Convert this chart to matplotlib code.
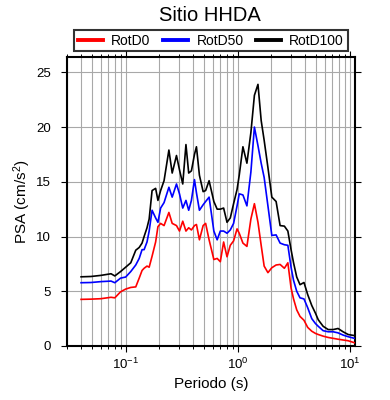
import matplotlib
matplotlib.use("Agg")
import matplotlib.pyplot as plt
from matplotlib.ticker import LogLocator, MultipleLocator, NullFormatter

plt.rcParams['font.family'] = ['Liberation Sans', 'DejaVu Sans']
plt.rcParams['mathtext.fontset'] = 'custom'
plt.rcParams['mathtext.rm'] = 'Liberation Sans'
plt.rcParams['mathtext.it'] = 'Liberation Sans:italic'

title = "Sitio HHDA"
xlabel = "Periodo (s)"
ylabel = "PSA (cm/s$^2$)"
series_names = ["RotD0", "RotD50", "RotD100"]
series_colors = ["#ff0000", "#0000ff", "#000000"]

periods = [0.040, 0.049, 0.060, 0.074, 0.080, 0.090, 0.100, 0.111, 0.123, 0.132,
           0.140, 0.146, 0.155, 0.162, 0.172, 0.185, 0.194, 0.205, 0.220, 0.243,
           0.260, 0.284, 0.302, 0.323, 0.345, 0.365, 0.386, 0.411, 0.428, 0.455,
           0.491, 0.517, 0.555, 0.612, 0.655, 0.699, 0.748, 0.802, 0.858, 0.918,
           0.986, 1.031, 1.112, 1.207, 1.310, 1.408, 1.515, 1.618, 1.720, 1.859,
           2.014, 2.199, 2.387, 2.606, 2.800, 2.990, 3.147, 3.359, 3.594, 3.900,
           4.207, 4.575, 4.935, 5.226, 5.778, 6.414, 7.091, 7.854, 8.700, 9.659,
           11.0]

rotd0 = [4.26, 4.28, 4.32, 4.45, 4.4, 4.95, 5.2, 5.35, 5.4, 6.2,
         6.9, 7.1, 7.3, 7.2, 8.2, 9.5, 10.9, 11.2, 11.0, 12.2,
         11.2, 11.0, 10.5, 11.4, 10.5, 10.8, 10.6, 11.0, 11.1, 9.7,
         11.0, 11.2, 9.7, 7.9, 8.0, 7.7, 9.5, 8.15, 9.2, 9.6,
         10.7, 10.3, 9.4, 9.1, 11.6, 13.0, 11.3, 9.2, 7.3, 6.7,
         7.15, 7.4, 7.45, 7.1, 7.6, 5.3, 4.3, 3.3, 2.7, 2.35,
         1.7, 1.35, 1.15, 1.05, 0.9, 0.78, 0.7, 0.62, 0.55, 0.48,
         0.3]

rotd50 = [5.78, 5.8, 5.88, 5.93, 5.78, 6.2, 6.3, 6.8, 7.4, 8.0,
          8.8, 8.8, 9.5, 10.5, 12.4, 11.7, 11.3, 12.6, 13.1, 14.5,
          13.6, 14.8, 13.9, 12.6, 13.3, 12.4, 13.3, 15.2, 14.0, 12.4,
          12.9, 13.2, 13.6, 10.5, 9.7, 10.5, 10.5, 10.3, 10.6, 11.2,
          12.8, 13.9, 13.8, 12.8, 15.9, 20.0, 18.3, 16.7, 15.4, 12.8,
          10.1, 10.15, 9.4, 9.25, 9.2, 7.2, 6.0, 5.0, 4.4, 4.3,
          3.5, 2.5, 2.05, 1.8, 1.4, 1.3, 1.3, 1.2, 1.0, 0.85,
          0.7]

rotd100 = [6.32, 6.35, 6.45, 6.6, 6.4, 6.8, 7.2, 7.6, 8.75, 9.0,
           9.4, 10.0, 10.8, 11.6, 14.2, 14.4, 13.3, 14.2, 15.1, 17.9,
           15.8, 17.4, 16.1, 14.8, 18.4, 15.8, 16.0, 17.5, 18.2, 15.6,
           14.1, 14.2, 15.1, 13.2, 12.5, 12.5, 12.6, 11.3, 11.7, 13.0,
           14.3, 15.6, 18.2, 16.7, 19.5, 22.9, 23.9, 20.6, 18.8, 16.3,
           13.6, 13.2, 11.0, 10.95, 10.5, 8.8, 7.6, 6.3, 5.6, 5.8,
           4.7, 3.7, 3.0, 2.4, 1.8, 1.5, 1.5, 1.6, 1.3, 1.05,
           0.95]

series = [rotd0, rotd50, rotd100]

fig = plt.figure(figsize=(3.9, 4.0), dpi=100)
ax = fig.add_axes([0.172, 0.135, 0.738, 0.7225])

for name, col, vals in zip(series_names, series_colors, series):
    ax.plot(periods, vals, color=col, lw=1.2, label=name, zorder=3)

ax.set_xscale('log')
ax.set_xlim(0.03, 11.1)
ax.set_ylim(0, 26.4)
ax.xaxis.set_major_locator(LogLocator(base=10, numticks=10))
ax.xaxis.set_minor_locator(LogLocator(base=10, subs=range(2, 10), numticks=20))
ax.xaxis.set_minor_formatter(NullFormatter())
ax.yaxis.set_major_locator(MultipleLocator(5))

ax.grid(True, which='major', axis='both', color='#a8a8a8', lw=0.8, zorder=0)
ax.grid(True, which='minor', axis='x', color='#a8a8a8', lw=0.8, zorder=0)

ax.tick_params(which='major', direction='out', length=4.5, width=0.8,
               top=True, right=True, labelsize=9.5, colors='black')
ax.tick_params(axis='x', which='major', pad=3)
ax.tick_params(axis='y', which='major', pad=7)
ax.tick_params(which='minor', direction='out', length=2.5, width=0.7,
               top=True, right=True)
for s in ax.spines.values():
    s.set_linewidth(1.5)

ax.set_xlabel(xlabel, fontsize=11, labelpad=4)
ax.set_ylabel(ylabel, fontsize=11)
ax.yaxis.set_label_coords(-0.118, 0.5)
fig.text(0.538, 0.962, title, ha='center', va='center', fontsize=14.5)

leg = ax.legend(loc='lower center', bbox_to_anchor=(0.5, 1.02), ncol=3,
                frameon=True, fancybox=False, edgecolor='black', fontsize=10,
                handlelength=1.8, handletextpad=0.6, columnspacing=0.9,
                borderpad=0.25, borderaxespad=0.0)
leg.get_frame().set_linewidth(1.5)
for h in leg.legend_handles:
    h.set_linewidth(2.8)

fig.savefig("out.png", dpi=100)
